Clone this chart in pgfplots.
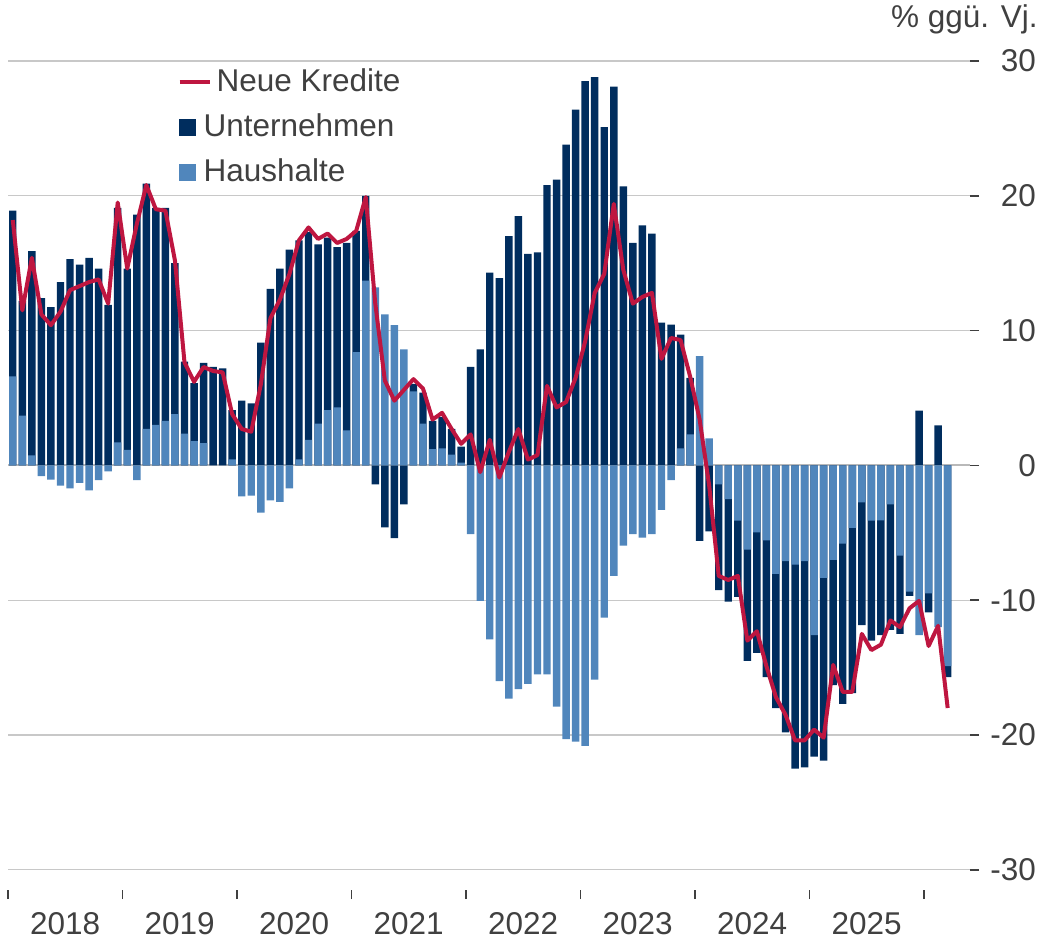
\documentclass[border=0pt]{standalone}
\usepackage{fontspec}
\setmainfont{Liberation Sans}
\usepackage{pgfplots}
\usepackage{pgfplotstable}
\pgfplotsset{compat=1.18}
\definecolor{kdark}{RGB}{0,45,94}
\definecolor{klight}{RGB}{80,134,188}
\definecolor{kred}{RGB}{190,22,64}
\definecolor{ktext}{RGB}{64,64,64}
\definecolor{kgrid}{RGB}{200,200,200}

% i = month index (0 = Jan 2018); L = Haushalte bar end; T = outer end of Unternehmen bar; N = Neue Kredite
\pgfplotstableread{
i L T N
0 6.6 18.9 18.2
1 3.7 12.2 11.5
2 0.74 15.9 15.4
3 -0.8 12.4 11.2
4 -1.06 11.75 10.4
5 -1.5 13.6 11.4
6 -1.7 15.3 13.0
7 -1.3 14.9 13.3
8 -1.85 15.4 13.6
9 -1.1 14.6 13.8
10 -0.44 11.9 12.0
11 1.7 19.1 19.5
12 1.16 14.6 14.6
13 -1.09 18.6 17.9
14 2.7 20.9 20.8
15 3.0 19.1 19.0
16 3.3 19.1 18.9
17 3.8 15.0 15.2
18 2.35 7.7 7.65
19 1.8 6.1 6.2
20 1.65 7.6 7.3
21 0 7.3 7.0
22 0 7.2 6.9
23 0.44 4.1 3.8
24 -2.3 4.8 2.7
25 -2.25 4.6 2.5
26 -3.5 9.1 6.0
27 -2.6 13.1 10.9
28 -2.7 14.6 12.3
29 -1.7 16.0 14.2
30 0.44 16.7 16.7
31 1.9 17.3 17.65
32 3.1 16.4 16.8
33 4.1 16.9 17.2
34 4.3 16.2 16.5
35 2.6 16.5 16.8
36 8.4 17.4 17.4
37 13.7 20.0 19.9
38 13.2 -1.4 12.0
39 11.2 -4.6 6.3
40 10.4 -5.4 4.8
41 8.6 -2.9 5.6
42 5.5 6.05 6.4
43 3.1 5.4 5.7
44 1.2 3.3 3.4
45 1.26 3.6 3.9
46 0.8 2.7 2.7
47 0.2 1.4 1.6
48 -5.1 7.3 2.3
49 -10.05 8.6 -0.5
50 -12.9 14.3 1.9
51 -16.0 13.9 -0.9
52 -17.3 17.0 1.0
53 -16.6 18.5 2.7
54 -16.2 15.7 0.43
55 -15.5 15.8 0.76
56 -15.5 20.8 5.9
57 -17.9 21.2 4.3
58 -20.3 23.8 4.7
59 -20.5 26.4 6.5
60 -20.8 28.5 9.2
61 -15.9 28.8 12.8
62 -11.3 25.1 14.2
63 -8.2 28.1 19.4
64 -5.95 20.7 14.5
65 -5.1 16.5 12.0
66 -5.35 17.8 12.5
67 -5.1 17.2 12.8
68 -3.3 10.6 7.9
69 -1.1 10.45 9.45
70 1.26 9.7 9.3
71 2.3 6.5 6.6
72 8.1 -5.6 3.4
73 2.0 -4.9 -1.5
74 -1.4 -9.26 -8.2
75 -2.5 -10.1 -8.5
76 -4.1 -9.75 -8.2
77 -6.25 -14.5 -13.0
78 -4.96 -13.9 -12.3
79 -5.56 -15.7 -14.9
80 -8.05 -18.0 -17.2
81 -7.1 -19.8 -18.5
82 -7.36 -22.5 -20.4
83 -7.1 -22.4 -20.4
84 -12.6 -21.6 -19.6
85 -8.35 -21.9 -20.2
86 -7.0 -16.3 -14.8
87 -5.8 -17.7 -16.8
88 -4.64 -16.9 -16.8
89 -2.74 -11.85 -12.5
90 -4.1 -13.0 -13.7
91 -4.07 -12.6 -13.3
92 -2.9 -12.2 -11.5
93 -6.7 -12.5 -12.0
94 -9.36 -9.68 -10.6
95 -12.6 4.07 -10.05
96 -9.5 -10.9 -13.4
97 -12.0 2.96 -11.9
98 -14.9 -15.7 -18.0
}\data

\begin{document}
\begin{tikzpicture}[x=1pt,y=1pt]
\path[use as bounding box] (0,0) rectangle (521.5,469.5);
\begin{axis}[
  at={(4pt,24.5pt)}, anchor=south west,
  scale only axis, width=481pt, height=414.5pt,
  xmin=-0.5, xmax=100.34, ymin=-31.5, ymax=30,
  axis line style={draw=none},
  tick align=outside,
  tick style={ktext, line width=0.8pt},
  major tick length=4.5pt,
  ytick={-30,-20,-10,0,10,20,30},
  yticklabels={-30,-20,-10,0,10,20,30},
  ytick pos=right, yticklabel pos=right,
  yticklabel style={anchor=east, xshift=32pt},
  ymajorgrids, grid style={kgrid, line width=0.6pt},
  extra y ticks={0}, extra y tick labels={},
  extra y tick style={grid style={gray!55, line width=1.1pt}, major tick length=0pt},
  xtick={-0.5,11.5,...,95.5}, xticklabels={},
  xtick pos=left,
  extra x ticks={5.5,17.5,29.5,41.5,53.5,65.5,77.5,89.5},
  extra x tick labels={2018,2019,2020,2021,2022,2023,2024,2025},
  extra x tick style={major tick length=0pt, xticklabel style={yshift=-7.5pt}},
  tick label style={font=\fontsize{15.75}{19}\selectfont, text=ktext},
  legend style={at={(0.1758,0.9928)}, anchor=north west, draw=none, fill=none,
    inner sep=0pt, row sep=7.5pt, font=\fontsize{15.75}{19}\selectfont, text=ktext,
    nodes={inner sep=0pt, text height=12pt, text depth=3pt},
    /tikz/every odd column/.append style={column sep=2.5pt}},
  legend cell align=left,
]
\addlegendimage{legend image code/.code={\draw[kred, line width=2pt] (0pt,0pt) -- (15pt,0pt);}}
\addlegendentry{Neue Kredite}
\addlegendimage{legend image code/.code={\fill[kdark] (0pt,-4pt) rectangle (8pt,4pt); \path (15pt,0pt);}}
\addlegendentry{\hspace*{-6.5pt}Unternehmen}
\addlegendimage{legend image code/.code={\fill[klight] (0pt,-4pt) rectangle (8pt,4pt); \path (15pt,0pt);}}
\addlegendentry{\hspace*{-6.5pt}Haushalte}

\addplot[ybar, bar width=0.78, bar shift=0pt, fill=kdark, draw=none, forget plot] table[x=i, y=T] {\data};
\addplot[ybar, bar width=0.78, bar shift=0pt, fill=klight, draw=none, forget plot] table[x=i, y=L] {\data};
\addplot[kred, line width=2pt, line join=round, mark=none, forget plot] table[x=i, y=N] {\data};
\end{axis}
\node[anchor=east, inner sep=0pt, text=ktext, font=\fontsize{15.75}{19}\selectfont] at (519,460) {\% ggü. Vj.};
\end{tikzpicture}
\end{document}
